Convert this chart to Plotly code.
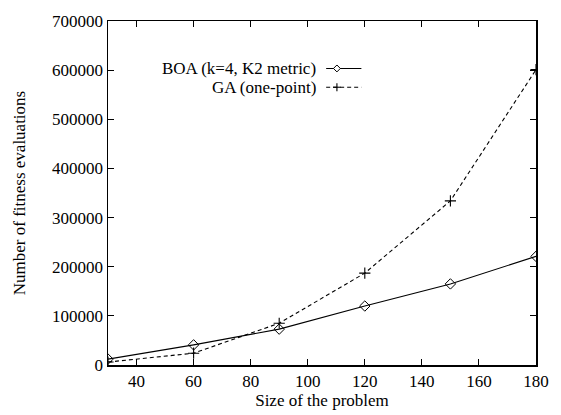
import plotly.graph_objects as go

sizes = [30, 60, 90, 120, 150, 180]
boa_evals = [12000, 41000, 73000, 120000, 165000, 221000]
ga_evals = [6000, 24000, 85000, 187000, 334000, 601000]
boa_name = "BOA (k=4, K2 metric)"
ga_name = "GA (one-point)"
x_ticks = [40, 60, 80, 100, 120, 140, 160, 180]
y_ticks = [0, 100000, 200000, 300000, 400000, 500000, 600000, 700000]

W, H = 561, 415
# plot area in window pixels: left 108, right 545.5, top 20, bottom 368
L, R, T, B = 108, 561 - 545.5, 20, 415 - 368
PW, PH = W - L - R, H - T - B

def px(xp):  # window pixel -> paper
    return (xp - L) / PW

def py(yp):
    return (H - B - yp) / PH

FONT = "Liberation Serif"
FS = 17

fig = go.Figure()
fig.add_trace(go.Scatter(x=sizes, y=boa_evals, mode="lines+markers", name=boa_name,
                         line=dict(color="black", width=1.1),
                         marker=dict(symbol="diamond-open", size=8, color="black", line=dict(width=1))))
fig.add_trace(go.Scatter(x=sizes, y=ga_evals, mode="lines+markers", name=ga_name,
                         line=dict(color="black", width=1.1, dash="4px,3px"),
                         marker=dict(symbol="cross-thin-open", size=8, color="black", line=dict(width=1.1))))

axis_common = dict(showline=True, linecolor="black", linewidth=1.5, mirror="ticks",
                   ticks="inside", ticklen=6, tickcolor="black", tickwidth=1,
                   showgrid=False, zeroline=False,
                   tickfont=dict(family=FONT, size=FS, color="black"))

fig.update_xaxes(range=[30, 180], tickvals=x_ticks,
                 title=dict(text="Size of the problem", font=dict(family=FONT, size=FS, color="black"), standoff=0),
                 **axis_common)
fig.update_yaxes(range=[0, 700000], tickvals=y_ticks, ticktext=[str(v) for v in y_ticks],
                 title=dict(text="Number of fitness evaluations", font=dict(family=FONT, size=FS, color="black"), standoff=22),
                 **axis_common)

# custom legend (text left, sample right, like gnuplot)
shapes = []
annotations = []
entries = [(boa_name, 68, None, "diamond"), (ga_name, 87, "dash", "plus")]
for name, ypix, dash, mk in entries:
    annotations.append(dict(text=name, x=px(323), y=py(ypix), xref="paper", yref="paper",
                            xanchor="right", yanchor="middle", showarrow=False,
                            font=dict(family=FONT, size=FS, color="black")))
    shapes.append(dict(type="line", xref="paper", yref="paper", x0=px(331), x1=px(367),
                       y0=py(ypix), y1=py(ypix),
                       line=dict(color="black", width=1.1, dash="4px,3px" if dash else "solid")))
    cx, cy = 342, ypix
    if mk == "diamond":
        d = 3.5
        path = "M {} {} L {} {} L {} {} L {} {} Z".format(
            px(cx - d), py(cy), px(cx), py(cy - d), px(cx + d), py(cy), px(cx), py(cy + d))
        shapes.append(dict(type="path", xref="paper", yref="paper", path=path,
                           fillcolor="white", line=dict(color="black", width=1)))
    else:
        d = 4
        shapes.append(dict(type="line", xref="paper", yref="paper", x0=px(cx - d), x1=px(cx + d),
                           y0=py(cy), y1=py(cy), line=dict(color="black", width=1.1)))
        shapes.append(dict(type="line", xref="paper", yref="paper", x0=px(cx), x1=px(cx),
                           y0=py(cy - d), y1=py(cy + d), line=dict(color="black", width=1.1)))

fig.update_layout(width=W, height=H, margin=dict(l=L, r=R, t=T, b=B, pad=0),
                  paper_bgcolor="white", plot_bgcolor="white", showlegend=False,
                  shapes=shapes, annotations=annotations,
                  font=dict(family=FONT, color="black"))

fig.write_html("out.html", config={"displayModeBar": False, "staticPlot": True},
               post_script="document.body.style.margin='0';document.body.style.overflow='hidden';")
